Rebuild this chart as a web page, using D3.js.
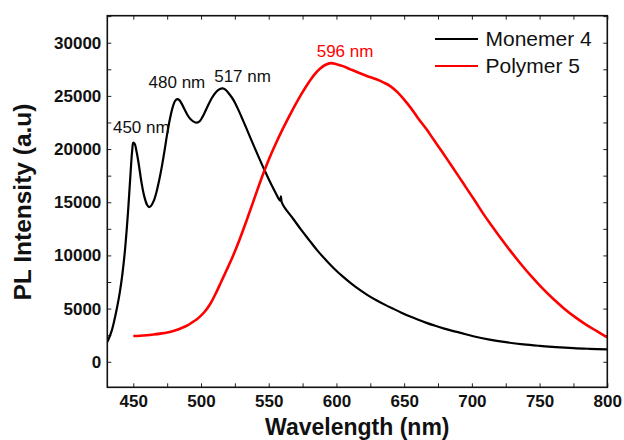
<!DOCTYPE html>
<html>
<head>
<meta charset="utf-8">
<script src="https://cdn.jsdelivr.net/npm/d3@7"></script>
<style>
  html, body { margin: 0; padding: 0; background: #fff; }
  svg { display: block; font-family: "Liberation Sans", Arial, sans-serif; }
</style>
</head>
<body>
<svg id="chart" width="624" height="440"></svg>
<script>
// PL spectra: wavelength (nm) and intensity (a.u.)
const monomerWavelength = [430.5, 432, 434, 436, 438, 440, 442, 444, 446, 448, 449.2, 450, 451, 452.5, 454, 456, 458, 460, 461.5, 463, 465, 467, 469, 471, 473, 475, 477, 479, 481, 482.5, 484, 486, 488, 490, 492, 494.5, 497, 499, 501, 503, 505, 508, 511, 514, 516, 518, 521, 524, 527, 531, 535, 539, 543, 547, 551, 555, 558.5, 559, 559.6, 562, 568, 574, 580, 586, 592.5, 598, 604.8, 611, 617, 623, 629.5, 636, 642, 648, 654, 660, 666.5, 673, 679, 685, 691, 701, 713, 725, 738, 750, 762, 775, 787, 800];
const monomerIntensity = [1800, 2200, 2900, 3900, 5100, 6500, 8300, 10700, 13900, 17800, 19900, 20600, 20500, 19700, 18600, 16900, 15600, 14800, 14550, 14650, 15100, 15900, 17000, 18300, 19800, 21400, 22800, 23900, 24550, 24700, 24600, 24200, 23700, 23200, 22850, 22580, 22480, 22620, 23000, 23500, 24050, 24800, 25350, 25650, 25700, 25580, 25150, 24600, 23850, 22700, 21500, 20300, 19120, 17980, 16900, 15900, 15150, 15550, 15000, 14450, 13450, 12400, 11420, 10450, 9530, 8800, 8000, 7350, 6780, 6270, 5780, 5350, 4980, 4620, 4280, 3970, 3660, 3380, 3140, 2930, 2740, 2400, 2080, 1840, 1640, 1500, 1380, 1280, 1220, 1170];

const polymerWavelength = [450, 455, 460, 465, 470, 475, 480, 483, 487, 490, 494, 497, 499, 503, 507, 511, 515, 519, 523.6, 528.5, 533, 538, 542, 546, 550, 555, 560, 565, 570, 575, 580, 584, 588, 592, 596, 600, 604.8, 610, 616, 622, 629.5, 635, 640, 645, 650, 655, 660, 666, 672, 678, 684, 690, 696, 702, 708, 714, 720, 728, 736, 744, 752, 760, 768, 776, 784, 792, 800];
const polymerIntensity = [2420, 2450, 2500, 2570, 2650, 2750, 2920, 3040, 3250, 3420, 3750, 4000, 4220, 4750, 5480, 6450, 7550, 8650, 9950, 11500, 13050, 14850, 16300, 17700, 19000, 20450, 21800, 23050, 24250, 25350, 26350, 27050, 27580, 27930, 28080, 27980, 27800, 27520, 27200, 26900, 26560, 26250, 25900, 25350, 24650, 23850, 22950, 21950, 20850, 19750, 18620, 17480, 16330, 15180, 14000, 12900, 11850, 10500, 9220, 8020, 6920, 5920, 5020, 4220, 3520, 2900, 2300];

const seriesNames = ["Monemer 4", "Polymer 5"];
const seriesColors = ["#000000", "#ff0000"];

// Peak annotations
const peakWavelengths = [450, 480, 517, 596];
const peakIntensities = [20650, 24750, 25700, 28050];
const peakSeries = [0, 0, 0, 1];

const xTickValues = [450, 500, 550, 600, 650, 700, 750, 800];
const yTickValues = [0, 5000, 10000, 15000, 20000, 25000, 30000];

// ---- layout ----
const plot = { left: 107.3, right: 607.3, top: 15.7, bottom: 387.3 };
const svg = d3.select("#chart");

const x = d3.scaleLinear().domain([430.8, 800]).range([plot.left, plot.right]);
const y = d3.scaleLinear().domain([-2400, 32540]).range([plot.bottom, plot.top]);

const tickLen = 4;
const xMinor = d3.range(450, 801, 25);
const yMinor = d3.range(-2500, 32501, 2500).filter(v => v > -2400 && v < 32540);

// axes with inward ticks on all four sides
svg.append("g")
  .attr("transform", `translate(0,${plot.bottom})`)
  .call(d3.axisTop(x).tickValues(xMinor).tickSize(tickLen).tickFormat(""))
  .call(g => g.select(".domain").remove());
svg.append("g")
  .attr("transform", `translate(0,${plot.top})`)
  .call(d3.axisBottom(x).tickValues(xMinor).tickSize(tickLen).tickFormat(""))
  .call(g => g.select(".domain").remove());
svg.append("g")
  .attr("transform", `translate(${plot.left},0)`)
  .call(d3.axisRight(y).tickValues(yMinor).tickSize(tickLen).tickFormat(""))
  .call(g => g.select(".domain").remove());
svg.append("g")
  .attr("transform", `translate(${plot.right},0)`)
  .call(d3.axisLeft(y).tickValues(yMinor).tickSize(tickLen).tickFormat(""))
  .call(g => g.select(".domain").remove());
svg.selectAll(".tick line").attr("stroke", "#222").attr("stroke-width", 1);

// tick labels
svg.append("g")
  .attr("transform", `translate(0,${plot.bottom})`)
  .call(d3.axisBottom(x).tickValues(xTickValues).tickSize(0).tickPadding(20).tickFormat(d3.format("d")))
  .call(g => g.select(".domain").remove())
  .selectAll("text")
  .attr("dy", 0)
  .attr("y", 20)
  .attr("font-size", 17).attr("font-weight", "bold").attr("fill", "#111")
  .attr("font-family", "Liberation Sans, Arial, sans-serif");

svg.append("g")
  .attr("transform", `translate(${plot.left},0)`)
  .call(d3.axisLeft(y).tickValues(yTickValues).tickSize(0).tickPadding(6).tickFormat(d3.format("d")))
  .call(g => g.select(".domain").remove())
  .selectAll("text")
  .attr("font-size", 17).attr("font-weight", "bold").attr("fill", "#111")
  .attr("font-family", "Liberation Sans, Arial, sans-serif");

// curves
const monomer = monomerWavelength.map((w, i) => [w, monomerIntensity[i]]);
const polymer = polymerWavelength.map((w, i) => [w, polymerIntensity[i]]);
const line = d3.line().x(d => x(d[0])).y(d => y(d[1])).curve(d3.curveCatmullRom.alpha(0.5));

svg.append("clipPath").attr("id", "plotclip")
  .append("rect")
  .attr("x", plot.left).attr("y", plot.top)
  .attr("width", plot.right - plot.left).attr("height", plot.bottom - plot.top);

const curves = svg.append("g").attr("clip-path", "url(#plotclip)");
curves.append("path").datum(monomer)
  .attr("d", line).attr("fill", "none")
  .attr("stroke", seriesColors[0]).attr("stroke-width", 2.2)
  .attr("stroke-linejoin", "round");
curves.append("path").datum(polymer)
  .attr("d", line).attr("fill", "none")
  .attr("stroke", seriesColors[1]).attr("stroke-width", 2.6)
  .attr("stroke-linejoin", "round");

// frame
svg.append("rect")
  .attr("x", plot.left).attr("y", plot.top)
  .attr("width", plot.right - plot.left).attr("height", plot.bottom - plot.top)
  .attr("fill", "none").attr("stroke", "#111").attr("stroke-width", 1.6);

// peak labels, nudged off each maximum
const labelNudge = [[8, -9], [3, -10.5], [18.5, -6.5], [14, -6.5]];
svg.append("g").selectAll("text")
  .data(peakWavelengths)
  .join("text")
  .attr("x", (d, i) => x(d) + labelNudge[i][0])
  .attr("y", (d, i) => y(peakIntensities[i]) + labelNudge[i][1])
  .attr("text-anchor", "middle")
  .attr("font-size", 17)
  .attr("fill", (d, i) => peakSeries[i] === 1 ? "#ff0000" : "#111")
  .text(d => `${d} nm`);

// legend
const legend = svg.append("g").attr("transform", "translate(435,39)");
seriesNames.forEach((name, i) => {
  const row = legend.append("g").attr("transform", `translate(0,${i * 27})`);
  row.append("line").attr("x1", 0).attr("x2", 43).attr("y1", 0).attr("y2", 0)
    .attr("stroke", seriesColors[i]).attr("stroke-width", 2);
  row.append("text").attr("x", 50.5).attr("y", 7.3)
    .attr("font-size", 21).attr("fill", "#111").text(name);
});

// axis titles
svg.append("text")
  .attr("x", (plot.left + plot.right) / 2).attr("y", 435)
  .attr("text-anchor", "middle")
  .attr("font-size", 23).attr("font-weight", "bold").attr("fill", "#111")
  .text("Wavelength (nm)");
svg.append("text")
  .attr("transform", "translate(31,202) rotate(-90)")
  .attr("text-anchor", "middle")
  .attr("font-size", 24.5).attr("font-weight", "bold").attr("fill", "#111")
  .text("PL Intensity (a.u)");
</script>
</body>
</html>
